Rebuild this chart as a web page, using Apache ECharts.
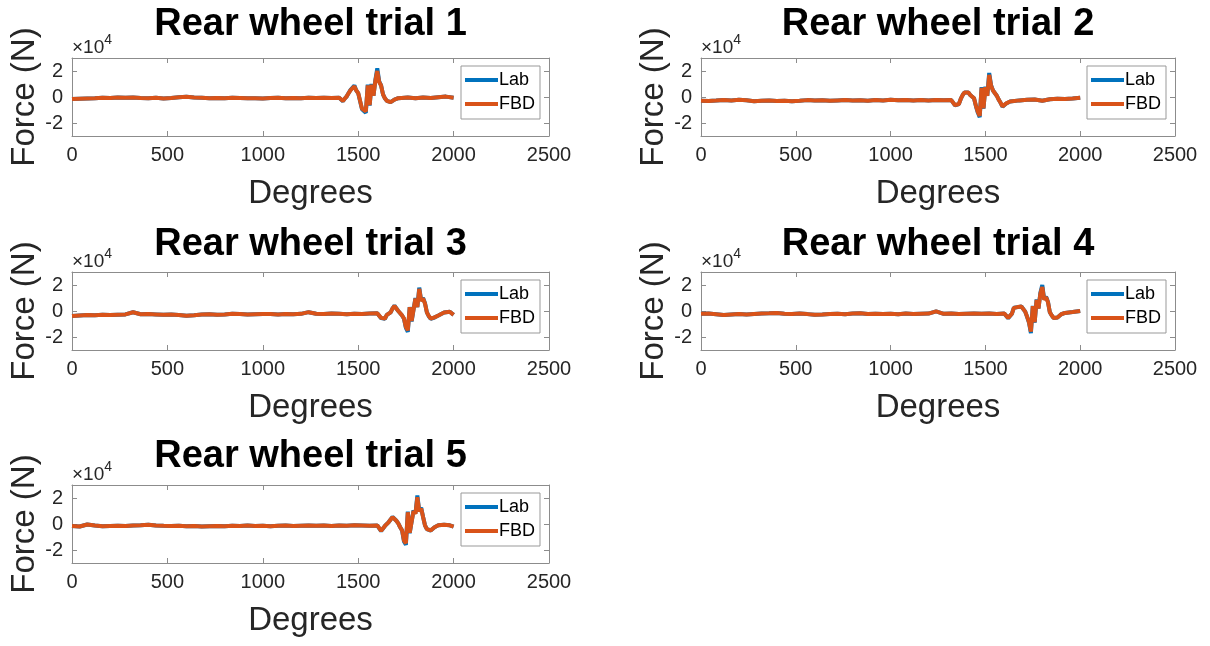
<!DOCTYPE html>
<html>
<head>
<meta charset="utf-8">
<script src="https://cdn.jsdelivr.net/npm/echarts@6/dist/echarts.min.js"></script>
<style>
  html, body { margin: 0; padding: 0; background: #fff; }
  #chart { width: 1210px; height: 646px; }
</style>
</head>
<body>
<div id="chart"></div>
<script>
// Rear wheel force, lab measurement vs free-body-diagram estimate, five trials.
const titles = ['Rear wheel trial 1', 'Rear wheel trial 2', 'Rear wheel trial 3', 'Rear wheel trial 4', 'Rear wheel trial 5'];
const seriesNames = ['Lab', 'FBD'];
const xTicks = [0, 500, 1000, 1500, 2000, 2500];
const yTicks = [-20000, 0, 20000];
const xLabel = 'Degrees';
const yLabel = 'Force (N)';

// Trial 1
const deg1 = [0,40,80,120,160,200,240,280,320,360,400,440,480,520,560,600,640,680,720,760,800,840,880,920,960,1000,1040,1080,1120,1160,1200,1240,1280,1320,1360,1400,
  1410,1420,1430,1440,1450,1460,1470,1480,1490,1500,1510,1520,1530,1540,1550,1560,1570,1580,1590,1600,1610,1620,1630,1640,1650,1660,1670,1680,1690,1700,1710,1720,
  1760,1800,1840,1880,1920,1960,2000];
const lab1 = [-1600,-1300,-1100,-900,-500,-700,-300,-600,-400,-700,-900,-600,-1200,-800,-200,100,-300,-600,-900,-700,-900,-600,-800,-1000,-900,-1100,-800,-600,-900,-700,-900,-600,-800,-500,-700,-600,
  -1500,-3200,-1200,500,3000,5500,7000,8800,5000,3000,3500,-9500,-10500,-12200,9500,-6500,10000,1000,13000,22000,12000,9000,2000,-1000,-3000,-4500,-4000,-3000,-2000,-1200,-900,-600,
  -400,-900,-300,-700,-200,300,-500];
const fbd1 = [-1600,-1300,-1100,-900,-500,-700,-300,-600,-400,-700,-900,-600,-1200,-800,-200,100,-300,-600,-900,-700,-900,-600,-800,-1000,-900,-1100,-800,-600,-900,-700,-900,-600,-800,-500,-700,-600,
  -1500,-3000,-1200,500,3000,5300,6800,8200,5000,3000,3400,-9000,-10000,-11000,9000,-6200,9500,1000,12500,20000,11500,8800,2000,-1000,-2900,-4300,-3900,-3000,-2000,-1200,-900,-600,
  -400,-900,-300,-700,-200,300,-500];

// Trial 2
const deg2 = [0,40,80,120,160,200,240,280,320,360,400,440,480,520,560,600,640,680,720,760,800,840,880,920,960,1000,1040,1080,1120,1160,1200,1240,1280,1320,
  1330,1340,1350,1360,1370,1380,1390,1400,1410,1420,1430,1440,1450,1460,1470,1480,1490,1500,1510,1520,1530,1540,1550,1560,1570,1580,1590,1600,1610,1620,1630,1640,
  1680,1720,1760,1800,1840,1880,1920,1960,2000];
const lab2 = [-2800,-3000,-2700,-2300,-2600,-2200,-2500,-3200,-2900,-2600,-3000,-2800,-3300,-2900,-2400,-2700,-2500,-2900,-2600,-2300,-2700,-2500,-2800,-2400,-2600,-2200,-2500,-2300,-2700,-2400,-2600,-2300,-2500,-2400,
  -3500,-6500,-7200,-5500,-1500,1500,3500,5000,3500,1500,2500,-1000,-7000,-12000,-15500,7500,-9000,8000,1000,18500,9000,5000,6500,1000,-2000,-4500,-7500,-6500,-5000,-4000,-3500,-3000,
  -2600,-2200,-2000,-2900,-1700,-1300,-1500,-1100,-500];
const fbd2 = [-2800,-3000,-2700,-2300,-2600,-2200,-2500,-3200,-2900,-2600,-3000,-2800,-3300,-2900,-2400,-2700,-2500,-2900,-2600,-2300,-2700,-2500,-2800,-2400,-2600,-2200,-2500,-2300,-2700,-2400,-2600,-2300,-2500,-2400,
  -3500,-6300,-6900,-5400,-1500,1500,3400,4800,3400,1500,2400,-1000,-6800,-11500,-14500,7000,-8700,7600,1000,17000,8700,5000,6300,1000,-2000,-4400,-7200,-6300,-4900,-4000,-3500,-3000,
  -2600,-2200,-2000,-2900,-1700,-1300,-1500,-1100,-500];

// Trial 3
const deg3 = [0,40,80,120,160,200,240,280,320,360,400,440,480,520,560,600,640,680,720,760,800,840,880,920,960,1000,1040,1080,1120,1160,1200,1240,1280,1320,1360,1400,1440,1480,1520,1560,1600,
  1610,1620,1630,1640,1650,1660,1670,1680,1690,1700,1710,1720,1730,1740,1750,1760,1770,1780,1790,1800,1810,1820,1830,1840,1850,1860,1870,1880,1890,1900,1910,1920,
  1950,1980,2000];
const lab3 = [-3800,-3400,-3000,-3200,-2900,-3100,-2800,-2600,-1000,-2500,-2300,-2600,-2900,-2700,-3000,-3600,-3200,-2700,-2500,-2800,-2600,-2200,-2400,-2700,-2500,-2300,-2400,-2600,-2300,-2500,-2200,-900,-2100,-2400,-2000,-2200,-2500,-2100,-2300,-2000,-1800,
  -2500,-5500,-6500,-6000,-3000,-3500,-1000,2000,4000,2500,0,-1500,-3500,-6000,-13000,-16000,3000,-8000,-9000,10000,3000,18000,8000,10000,6000,-1000,-4000,-6000,-5500,-5000,-4500,-3500,
  -1200,-600,-3000];
const fbd3 = [-3800,-3400,-3000,-3200,-2900,-3100,-2800,-2600,-1000,-2500,-2300,-2600,-2900,-2700,-3000,-3600,-3200,-2700,-2500,-2800,-2600,-2200,-2400,-2700,-2500,-2300,-2400,-2600,-2300,-2500,-2200,-900,-2100,-2400,-2000,-2200,-2500,-2100,-2300,-2000,-1800,
  -2500,-5300,-6300,-5800,-3000,-3400,-1000,2000,3900,2400,0,-1500,-3400,-5800,-12500,-14800,2900,-7700,-8600,9500,3000,17000,7700,9600,5800,-1000,-3900,-5800,-5400,-4900,-4400,-3500,
  -1200,-600,-3000];

// Trial 4
const deg4 = [0,40,80,120,160,200,240,280,320,360,400,440,480,520,560,600,640,680,720,760,800,840,880,920,960,1000,1040,1080,1120,1160,1200,1240,1280,1320,1360,1400,1440,1480,1520,1560,1600,
  1610,1620,1630,1640,1650,1660,1670,1680,1690,1700,1710,1720,1730,1740,1750,1760,1770,1780,1790,1800,1810,1820,1830,1840,1850,1860,1870,1880,1890,1900,1910,1920,
  1960,2000];
const lab4 = [-2200,-2000,-2500,-3000,-2700,-2400,-2600,-2300,-2000,-1800,-1500,-2100,-2300,-2000,-2400,-2900,-2700,-2400,-2200,-2500,-2000,-1800,-2300,-2100,-2400,-2200,-2500,-2000,-2300,-2100,-2000,-300,-2200,-2000,-2300,-2100,-1900,-2200,-2000,-2300,-2000,
  -3000,-5500,-4000,-2000,2500,3500,3000,4500,3500,2000,-500,-4500,-9000,-17000,4000,-9000,9000,2000,14000,20000,9000,11000,7000,-1000,-3500,-5500,-6000,-5000,-3500,-2500,-2000,-1500,
  -800,0];
const fbd4 = [-2200,-2000,-2500,-3000,-2700,-2400,-2600,-2300,-2000,-1800,-1500,-2100,-2300,-2000,-2400,-2900,-2700,-2400,-2200,-2500,-2000,-1800,-2300,-2100,-2400,-2200,-2500,-2000,-2300,-2100,-2000,-300,-2200,-2000,-2300,-2100,-1900,-2200,-2000,-2300,-2000,
  -3000,-5300,-3900,-2000,2400,3400,3000,4300,3400,2000,-500,-4400,-8700,-15800,3800,-8600,8600,2000,13500,18500,8700,10500,6800,-1000,-3400,-5400,-5900,-5000,-3500,-2500,-2000,-1500,
  -800,0];

// Trial 5
const deg5 = [0,40,80,120,160,200,240,280,320,360,400,440,480,520,560,600,640,680,720,760,800,840,880,920,960,1000,1040,1080,1120,1160,1200,1240,1280,1320,1360,1400,1440,1480,1520,1560,1600,
  1610,1620,1630,1640,1650,1660,1670,1680,1690,1700,1710,1720,1730,1740,1750,1760,1770,1780,1790,1800,1810,1820,1830,1840,1850,1860,1870,1880,1890,1900,1910,1920,
  1950,1980,2000];
const lab5 = [-1600,-1900,-400,-1200,-1800,-1500,-1300,-1600,-1200,-900,-500,-1100,-1400,-1600,-1300,-1700,-1500,-2000,-1700,-1500,-1800,-1400,-1600,-1200,-1500,-1300,-1700,-1400,-1200,-1500,-1300,-1100,-1400,-1200,-1500,-1100,-1300,-1000,-1200,-1400,-1100,
  -2500,-5500,-4500,-1500,-500,1500,3500,5500,4500,2500,500,-2500,-5000,-13500,-16000,9500,-7000,-5500,10500,8000,22000,10000,12500,5500,-1000,-4000,-5500,-5000,-4000,-2500,-1500,-1000,
  -500,-1000,-2000];
const fbd5 = [-1600,-1900,-400,-1200,-1800,-1500,-1300,-1600,-1200,-900,-500,-1100,-1400,-1600,-1300,-1700,-1500,-2000,-1700,-1500,-1800,-1400,-1600,-1200,-1500,-1300,-1700,-1400,-1200,-1500,-1300,-1100,-1400,-1200,-1500,-1100,-1300,-1000,-1200,-1400,-1100,
  -2500,-5300,-4400,-1500,-500,1500,3400,5300,4400,2500,500,-2500,-4900,-12800,-14800,9000,-6700,-5400,10000,7800,20500,9600,12000,5400,-1000,-3900,-5400,-4900,-4000,-2500,-1500,-1000,
  -500,-1000,-2000];

const trialDeg = [deg1, deg2, deg3, deg4, deg5];
const trialLab = [lab1, lab2, lab3, lab4, lab5];
const trialFbd = [fbd1, fbd2, fbd3, fbd4, fbd5];

// Plot boxes (pixels) for the 3x2 layout with the last cell empty; titleGap = title top above the box.
const boxes = [
  { left: 72,  top: 58,  width: 477, height: 78, titleGap: 52 },
  { left: 701, top: 58,  width: 474, height: 78, titleGap: 52 },
  { left: 72,  top: 272, width: 477, height: 78, titleGap: 46 },
  { left: 701, top: 272, width: 474, height: 78, titleGap: 46 },
  { left: 72,  top: 485, width: 477, height: 78, titleGap: 47 }
];

const FONT = '"Liberation Sans", Arial, Helvetica, sans-serif';
const AXIS_GREY = '#8c8c8c';
const TEXT_DARK = '#262626';
const LAB_COLOR = '#0072BD';
const FBD_COLOR = '#D95319';

const grid = [], xAxis = [], yAxis = [], series = [], legend = [], graphic = [];

boxes.forEach((b, i) => {
  grid.push({ left: b.left, top: b.top, width: b.width, height: b.height, containLabel: false });

  const xBase = {
    type: 'value', gridIndex: i, min: xTicks[0], max: xTicks[xTicks.length - 1], interval: 500,
    splitLine: { show: false },
    axisLine: { show: true, onZero: false, lineStyle: { color: AXIS_GREY, width: 1 } },
    axisTick: { show: true, inside: true, length: 5, lineStyle: { color: AXIS_GREY } }
  };
  xAxis.push(Object.assign({}, xBase, {
    position: 'bottom',
    name: xLabel, nameLocation: 'middle', nameGap: 41,
    nameTextStyle: { fontFamily: FONT, fontSize: 33, color: TEXT_DARK },
    axisLabel: { show: true, margin: 9, fontFamily: FONT, fontSize: 20, color: TEXT_DARK,
      formatter: v => String(v) }
  }));
  xAxis.push(Object.assign({}, xBase, { position: 'top', axisLabel: { show: false } }));

  const yBase = {
    type: 'value', gridIndex: i, min: -30000, max: 30000, interval: 10000,
    splitLine: { show: false },
    axisLine: { show: true, onZero: false, lineStyle: { color: AXIS_GREY, width: 1 } },
    axisTick: { show: true, inside: true, length: 5, customValues: yTicks, lineStyle: { color: AXIS_GREY } }
  };
  yAxis.push(Object.assign({}, yBase, {
    position: 'left',
    name: yLabel, nameLocation: 'middle', nameGap: 27, nameRotate: 90,
    nameTextStyle: { fontFamily: FONT, fontSize: 33, color: TEXT_DARK },
    axisLabel: { show: true, margin: 9, fontFamily: FONT, fontSize: 20, color: TEXT_DARK,
      customValues: yTicks, formatter: v => String(Math.round(v / 10000)) }
  }));
  yAxis.push(Object.assign({}, yBase, { position: 'right', axisLabel: { show: false } }));

  const deg = trialDeg[i];
  series.push({
    name: seriesNames[0], type: 'line', xAxisIndex: 2 * i, yAxisIndex: 2 * i,
    data: deg.map((d, k) => [d, trialLab[i][k]]),
    showSymbol: false, symbol: 'none', color: LAB_COLOR,
    lineStyle: { width: 4, color: LAB_COLOR }, z: 2, silent: true
  });
  series.push({
    name: seriesNames[1], type: 'line', xAxisIndex: 2 * i, yAxisIndex: 2 * i,
    data: deg.map((d, k) => [d, trialFbd[i][k]]),
    showSymbol: false, symbol: 'none', color: FBD_COLOR,
    lineStyle: { width: 4, color: FBD_COLOR }, z: 3, silent: true
  });

  legend.push({
    data: seriesNames, orient: 'vertical',
    right: 1210 - (b.left + b.width - 9), top: b.top + 8,
    icon: 'rect', itemWidth: 33, itemHeight: 4, itemGap: 6,
    padding: [5, 5, 6, 4],
    backgroundColor: '#fff', borderColor: '#999', borderWidth: 1, borderRadius: 0,
    textStyle: { fontFamily: FONT, fontSize: 18, color: '#000', padding: [0, 0, 0, -4] },
    selectedMode: false
  });

  // Panel title, centred over the plot box
  graphic.push({
    type: 'text', x: b.left + b.width / 2, y: b.top - b.titleGap,
    style: { text: titles[i], textAlign: 'center', textVerticalAlign: 'top',
      fontFamily: FONT, fontSize: 38, fontWeight: 'bold', fill: '#000' },
    silent: true
  });
  // Axis exponent
  graphic.push({
    type: 'text', x: b.left, y: b.top - 25,
    style: {
      text: '{a|×10}{b|4}',
      rich: {
        a: { fontFamily: FONT, fontSize: 19, fill: TEXT_DARK, lineHeight: 24, verticalAlign: 'bottom' },
        b: { fontFamily: FONT, fontSize: 14, fill: TEXT_DARK, lineHeight: 24, verticalAlign: 'top' }
      }
    },
    silent: true
  });
});

const chart = echarts.init(document.getElementById('chart'), null, { renderer: 'canvas' });
chart.setOption({
  backgroundColor: '#fff',
  animation: false,
  grid, xAxis, yAxis, series, legend, graphic
});
</script>
</body>
</html>
